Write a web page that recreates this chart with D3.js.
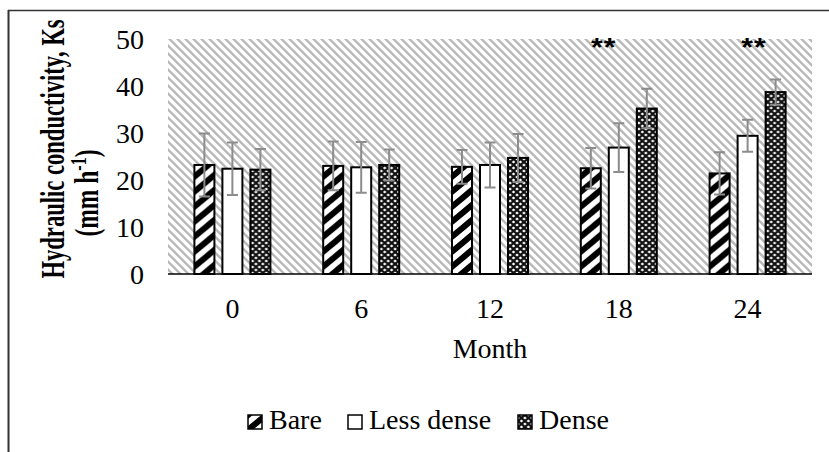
<!DOCTYPE html>
<html><head><meta charset="utf-8">
<script src="https://cdn.jsdelivr.net/npm/d3@7"></script>
<style>body{margin:0;background:#fff} svg{display:block}</style>
</head><body><svg id="c" width="829" height="452"></svg>
<script>
// ---- data ----
const months = ["0", "6", "12", "18", "24"];
const seriesNames = ["Bare", "Less dense", "Dense"];
const bare = [23.2, 23.0, 22.8, 22.5, 21.4];
const lessDense = [22.4, 22.7, 23.2, 26.9, 29.4];
const dense = [22.2, 23.2, 24.7, 35.2, 38.7];
const bareErr = [6.7, 5.2, 3.6, 4.3, 4.5];
const lessDenseErr = [5.6, 5.4, 4.8, 5.2, 3.4];
const denseErr = [4.4, 3.3, 5.1, 4.2, 2.7];
const yTicks = [0, 10, 20, 30, 40, 50];
const significance = ["", "", "", "**", "**"];
const yTitle1 = "Hydraulic conductivity, Ks";
const xTitle = "Month";

// ---- layout ----
const W = 829, H = 452;
const P = {left: 168, right: 812, top: 39, bottom: 274};
const FONT = "'Liberation Serif','Times New Roman',serif";
const FS = 28;
const sigDx = [0, 0, 0, -15, 6.5];

const svg = d3.select("#c");
const defs = svg.append("defs");

// background stripes (pixel-crisp, downward diagonal)
const T = 8;
const bg = defs.append("pattern").attr("id", "bgp").attr("patternUnits", "userSpaceOnUse")
  .attr("x", P.left).attr("y", P.top).attr("width", T).attr("height", T);
bg.append("rect").attr("width", T).attr("height", T).attr("fill", "#fff");
for (let r = 0; r < T; r++) for (let k = 0; k < 4; k++) {
  bg.append("rect").attr("x", (r + k) % T).attr("y", r).attr("width", 1).attr("height", 1)
    .attr("fill", (k === 0 || k === 3) ? "#cfcfcf" : "#b8b8b8").attr("shape-rendering", "crispEdges");
}

// bare stripes
const bp = defs.append("pattern").attr("id", "bareP").attr("patternUnits", "userSpaceOnUse")
  .attr("width", 15).attr("height", 15).attr("patternTransform", `scale(1.2,1)`);
bp.append("rect").attr("width", 15).attr("height", 15).attr("fill", "#fff");
bp.append("path").attr("d", "M-2,17L17,-2M-3,3L3,-3M12,18L18,12").attr("stroke", "#000").attr("stroke-width", 5.5);

// dense lattice
const dp = defs.append("pattern").attr("id", "denseP").attr("patternUnits", "userSpaceOnUse")
  .attr("width", 6).attr("height", 6).attr("patternTransform", `scale(1.15,1)`);
dp.append("rect").attr("width", 6).attr("height", 6).attr("fill", "#fff");
dp.append("path").attr("d", "M0,0L6,6M6,0L0,6").attr("stroke", "#111").attr("stroke-width", 2.1);

const fills = ["url(#bareP)", "#fff", "url(#denseP)"];
const values = [bare, lessDense, dense];
const errs = [bareErr, lessDenseErr, denseErr];

// frame
svg.append("line").attr("x1", 8.5).attr("x2", 8.5).attr("y1", 10).attr("y2", H).attr("stroke", "#333").attr("stroke-width", 2);
svg.append("line").attr("x1", 8).attr("x2", W).attr("y1", 10.5).attr("y2", 10.5).attr("stroke", "#333").attr("stroke-width", 1.5);

// scales
const y = d3.scaleLinear().domain([0, 50]).range([P.bottom, P.top]);
const x0 = d3.scaleBand().domain(months).range([P.left, P.right]).padding(0);
const inner = 84;
const x1 = d3.scaleBand().domain(seriesNames).range([0, inner]).paddingInner(8 / 28).paddingOuter(4 / 28);

// plot area bg
svg.append("rect").attr("x", P.left).attr("y", P.top).attr("width", P.right - P.left).attr("height", P.bottom - P.top).attr("fill", "url(#bgp)");

// y tick labels
svg.append("g").selectAll("text").data(yTicks).join("text")
  .attr("x", 144).attr("y", d => y(d) + 9.5)
  .attr("text-anchor", "end").attr("font-family", FONT).attr("font-size", FS).attr("fill", "#000")
  .text(d => d);

// bars
const groups = svg.append("g").selectAll("g").data(months).join("g")
  .attr("transform", d => `translate(${x0(d) + x0.bandwidth() / 2 - inner / 2},0)`);
seriesNames.forEach((s, si) => {
  groups.append("rect")
    .attr("x", x1(s)).attr("width", x1.bandwidth())
    .attr("y", (d, i) => y(values[si][i]))
    .attr("height", (d, i) => y(0) - y(values[si][i]))
    .attr("fill", fills[si]).attr("stroke", "#000").attr("stroke-width", 2);
});
// error bars
seriesNames.forEach((s, si) => {
  const cx = x1(s) + x1.bandwidth() / 2;
  groups.append("path")
    .attr("d", (d, i) => {
      const v = values[si][i], e = errs[si][i];
      const t = y(v + e), b = y(v - e);
      return `M${cx},${t}V${b}M${cx - 5.5},${t}H${cx + 5.5}M${cx - 5.5},${b}H${cx + 5.5}`;
    })
    .attr("stroke", "#8c8c8c").attr("stroke-width", 2).attr("fill", "none");
});

// x axis line
svg.append("line").attr("x1", P.left).attr("x2", P.right).attr("y1", y(0)).attr("y2", y(0)).attr("stroke", "#000").attr("stroke-width", 1.6);

// x tick labels
svg.append("g").selectAll("text").data(months).join("text")
  .attr("x", d => x0(d) + x0.bandwidth() / 2).attr("y", 318)
  .attr("text-anchor", "middle").attr("font-family", FONT).attr("font-size", FS).text(d => d);

// significance
svg.append("g").selectAll("text").data(months).join("text")
  .attr("transform", (d, i) => `translate(${x0(d) + x0.bandwidth() / 2 + sigDx[i]},${y(50) + 17}) scale(1.2,1)`)
  .attr("text-anchor", "middle").attr("font-family", "'Liberation Sans',Arial,sans-serif").attr("font-size", 25).attr("font-weight", "bold")
  .attr("letter-spacing", 1)
  .text((d, i) => significance[i]);

// x title
svg.append("text").attr("x", (P.left + P.right) / 2).attr("y", 358)
  .attr("text-anchor", "middle").attr("font-family", FONT).attr("font-size", FS).text(xTitle);

// y title
const yt1 = svg.append("g").attr("transform", `translate(64,149) scale(1.45,1)`);
yt1.append("text").attr("transform", "rotate(-90)").attr("text-anchor", "middle")
  .attr("font-family", FONT).attr("font-size", 22.6).attr("font-weight", "bold").text(yTitle1);
const yt2 = svg.append("g").attr("transform", `translate(98,193) scale(1.45,1)`);
const t2 = yt2.append("text").attr("transform", "rotate(-90)").attr("text-anchor", "middle")
  .attr("font-family", FONT).attr("font-size", 23.5).attr("font-weight", "bold");
t2.append("tspan").text("(mm h");
t2.append("tspan").attr("dy", -8).attr("font-size", 16).text("-1");
t2.append("tspan").attr("dy", 8).text(")");

// legend
const legX = [248, 348, 518];
const leg = svg.append("g").selectAll("g").data(seriesNames).join("g")
  .attr("transform", (d, i) => `translate(${legX[i]},415)`);
leg.append("rect").attr("width", 14).attr("height", 14).attr("fill", (d, i) => fills[i]).attr("stroke", "#000").attr("stroke-width", 1.5);
leg.append("text").attr("x", 21).attr("y", 14).attr("font-family", FONT).attr("font-size", FS).text(d => d);
</script></body></html>
